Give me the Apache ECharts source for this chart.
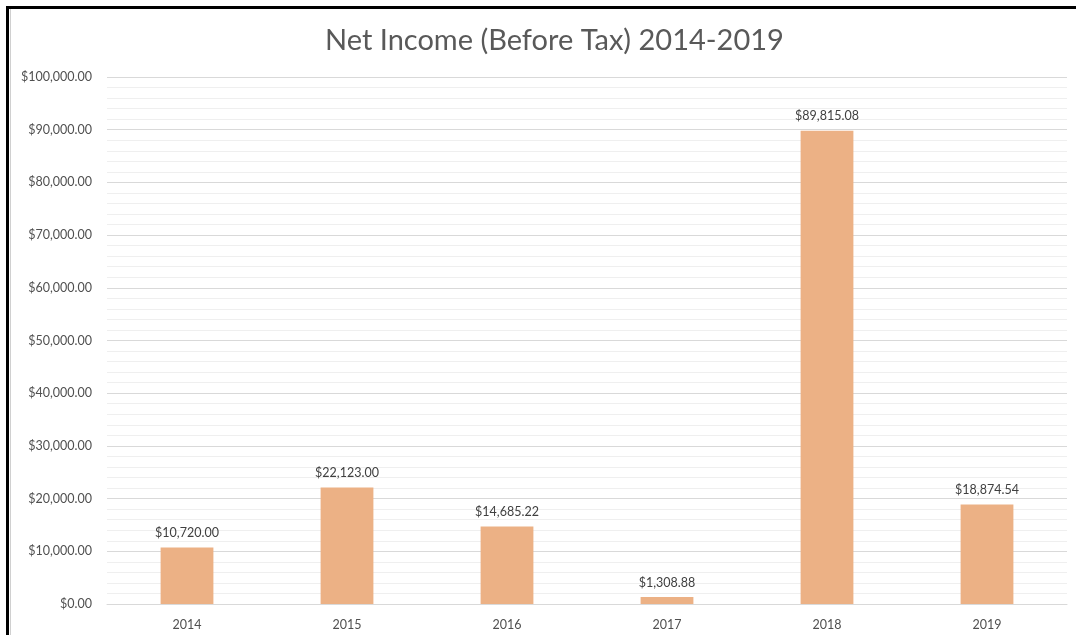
<!DOCTYPE html>
<html>
<head>
<meta charset="utf-8">
<script src="https://cdn.jsdelivr.net/npm/echarts@6/dist/echarts.min.js"></script>
<style>
  html, body { margin: 0; padding: 0; background: #fff; }
  #chart { width: 1076px; height: 635px; }
</style>
</head>
<body>
<div id="chart"></div>
<script>
// Net income before tax, by year
const years = ['2014', '2015', '2016', '2017', '2018', '2019'];
const netIncome = [10720.00, 22123.00, 14685.22, 1308.88, 89815.08, 18874.54];

function money(v) {
  const fixed = Math.abs(v).toFixed(2);
  const parts = fixed.split('.');
  const intPart = parts[0].replace(/\B(?=(\d{3})+(?!\d))/g, ',');
  return (v < 0 ? '-' : '') + '$' + intPart + '.' + parts[1];
}

const chart = echarts.init(document.getElementById('chart'), null, { renderer: 'canvas' });
const font = 'Lato, "Open Sans", sans-serif';

chart.setOption({
  animation: false,
  backgroundColor: '#ffffff',
  title: {
    text: 'Net Income (Before Tax) 2014-2019',
    left: 320,
    top: 21,
    textStyle: { fontFamily: font, fontSize: 29, fontWeight: 'normal', color: '#595959' }
  },
  graphic: [
    {
      type: 'rect',
      shape: { x: 7.5, y: 7.5, width: 1200, height: 800 },
      style: { fill: 'none', stroke: '#000', lineWidth: 3 },
      silent: true
    },
    {
      type: 'line',
      shape: { x1: 10.5, y1: 9, x2: 10.5, y2: 635 },
      style: { stroke: '#d0d0d0', lineWidth: 1 },
      silent: true
    }
  ],
  grid: { left: 107, right: 9, top: 77, bottom: 31, containLabel: false },
  xAxis: {
    type: 'category',
    data: years,
    axisLine: { show: true, lineStyle: { color: '#d9d9d9' } },
    axisTick: { show: false },
    axisLabel: { fontFamily: font, fontSize: 12.5, color: '#505050', margin: 14 }
  },
  yAxis: {
    type: 'value',
    min: 0,
    max: 100000,
    interval: 10000,
    axisLine: { show: false },
    axisTick: { show: false },
    axisLabel: { fontFamily: font, fontSize: 12.5, color: '#505050', margin: 15, formatter: money },
    splitLine: { show: true, lineStyle: { color: '#d9d9d9', width: 1 } },
    minorTick: { show: false, splitNumber: 5 },
    minorSplitLine: { show: true, lineStyle: { color: '#efefef', width: 1 } }
  },
  series: [{
    type: 'bar',
    data: netIncome,
    barWidth: '33%',
    itemStyle: { color: '#ecb185' },
    label: {
      show: true,
      position: 'top',
      distance: 8,
      fontFamily: font,
      fontSize: 12.5,
      color: '#404040',
      formatter: p => money(p.value)
    }
  }]
});
</script>
</body>
</html>
